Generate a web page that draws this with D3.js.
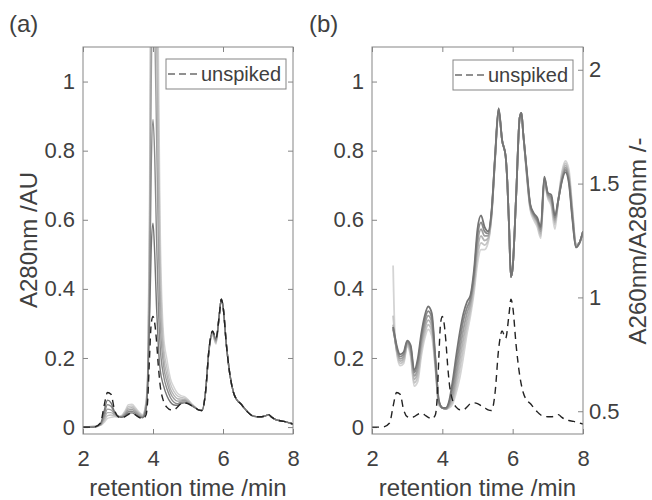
<!DOCTYPE html>
<html>
<head>
<meta charset="utf-8">
<script src="https://cdn.jsdelivr.net/npm/d3@7"></script>
<style>
  body { margin: 0; background: #fff; }
  svg { font-family: "Liberation Sans", Arial, sans-serif; }
</style>
</head>
<body>
<div id="chart"></div>
<script>
// ---- data ----
// (a) A280 chromatograms, retention time in min
var timeA = [2.0, 2.3, 2.5, 2.6, 2.7, 2.8, 2.9, 3.0, 3.1, 3.2, 3.3, 3.4, 3.5, 3.6, 3.7, 3.8,
  3.85, 3.9, 3.95, 4.0, 4.05, 4.1, 4.15, 4.2,
  4.3, 4.4, 4.5, 4.6, 4.7, 4.8, 4.9, 5.0, 5.1, 5.2, 5.3, 5.4, 5.5, 5.6, 5.7, 5.8, 5.9, 5.95,
  6.0, 6.1, 6.2, 6.3, 6.4, 6.5, 6.6, 6.7, 6.8, 6.9, 7.0, 7.1, 7.2, 7.3, 7.4, 7.5, 7.6, 7.7, 7.8, 7.9, 8.0];

var unspikedA280 = [0, 0, 0.012, 0.06, 0.1, 0.095, 0.05, 0.03, 0.027, 0.03, 0.037, 0.04, 0.035, 0.028, 0.024, 0.035,
  0.08, 0.2, 0.3, 0.32, 0.3, 0.25, 0.18, 0.125,
  0.075, 0.057, 0.05, 0.05, 0.058, 0.068, 0.07, 0.068, 0.062, 0.056, 0.05, 0.048, 0.1, 0.225, 0.278, 0.257, 0.33, 0.37,
  0.35, 0.235, 0.15, 0.1, 0.078, 0.068, 0.056, 0.044, 0.035, 0.031, 0.03, 0.03, 0.032, 0.036, 0.028, 0.022, 0.019, 0.017, 0.015, 0.012, 0.009];

// spiked runs, darkest line first
var spiked1 = [0, 0, 0.01, 0.045, 0.078, 0.07, 0.045, 0.032, 0.028, 0.032, 0.04, 0.041, 0.036, 0.03, 0.027, 0.05,
  0.12, 0.3, 0.52, 0.59, 0.5, 0.35, 0.24, 0.17,
  0.12, 0.09, 0.072, 0.064, 0.063, 0.068, 0.07, 0.068, 0.062, 0.056, 0.05, 0.048, 0.1, 0.225, 0.277, 0.255, 0.33, 0.37,
  0.35, 0.235, 0.15, 0.1, 0.078, 0.068, 0.056, 0.044, 0.035, 0.031, 0.03, 0.03, 0.032, 0.036, 0.028, 0.022, 0.019, 0.017, 0.015, 0.012, 0.009];
var spiked2 = [0, 0, 0.008, 0.035, 0.065, 0.06, 0.042, 0.032, 0.029, 0.035, 0.045, 0.046, 0.04, 0.032, 0.028, 0.055,
  0.13, 0.35, 0.75, 0.89, 0.78, 0.55, 0.36, 0.24,
  0.15, 0.11, 0.085, 0.072, 0.068, 0.072, 0.073, 0.07, 0.063, 0.056, 0.05, 0.048, 0.1, 0.224, 0.275, 0.252, 0.33, 0.37,
  0.35, 0.235, 0.15, 0.1, 0.078, 0.068, 0.056, 0.044, 0.035, 0.031, 0.03, 0.03, 0.032, 0.036, 0.028, 0.022, 0.019, 0.017, 0.015, 0.012, 0.009];
var spiked3 = [0, 0, 0.007, 0.028, 0.052, 0.05, 0.038, 0.031, 0.03, 0.038, 0.05, 0.051, 0.044, 0.035, 0.03, 0.06,
  0.14, 0.42, 1.0, 1.25, 1.15, 0.85, 0.55, 0.32,
  0.18, 0.13, 0.098, 0.082, 0.075, 0.076, 0.077, 0.072, 0.064, 0.057, 0.05, 0.048, 0.1, 0.223, 0.272, 0.249, 0.33, 0.37,
  0.35, 0.235, 0.15, 0.1, 0.078, 0.068, 0.056, 0.044, 0.035, 0.031, 0.03, 0.03, 0.032, 0.036, 0.028, 0.022, 0.019, 0.017, 0.015, 0.012, 0.009];
var spiked4 = [0, 0, 0.006, 0.022, 0.042, 0.042, 0.035, 0.031, 0.031, 0.041, 0.055, 0.056, 0.048, 0.038, 0.032, 0.065,
  0.15, 0.5, 1.25, 1.6, 1.5, 1.15, 0.75, 0.42,
  0.21, 0.15, 0.11, 0.092, 0.082, 0.081, 0.08, 0.075, 0.066, 0.057, 0.05, 0.048, 0.1, 0.222, 0.27, 0.246, 0.33, 0.37,
  0.35, 0.235, 0.15, 0.1, 0.078, 0.068, 0.056, 0.044, 0.035, 0.031, 0.03, 0.03, 0.032, 0.036, 0.028, 0.022, 0.019, 0.017, 0.015, 0.012, 0.009];
var spiked5 = [0, 0.002, 0.005, 0.017, 0.033, 0.035, 0.032, 0.03, 0.032, 0.044, 0.06, 0.061, 0.052, 0.041, 0.034, 0.07,
  0.16, 0.58, 1.5, 1.95, 1.85, 1.45, 0.95, 0.52,
  0.24, 0.17, 0.125, 0.103, 0.09, 0.086, 0.084, 0.078, 0.067, 0.058, 0.05, 0.048, 0.1, 0.221, 0.268, 0.243, 0.33, 0.37,
  0.35, 0.235, 0.15, 0.1, 0.078, 0.068, 0.056, 0.044, 0.035, 0.031, 0.03, 0.03, 0.032, 0.036, 0.028, 0.022, 0.019, 0.017, 0.015, 0.012, 0.009];
var spiked6 = [0, 0.003, 0.005, 0.013, 0.025, 0.028, 0.03, 0.03, 0.033, 0.047, 0.065, 0.066, 0.056, 0.044, 0.036, 0.075,
  0.17, 0.65, 1.75, 2.3, 2.15, 1.7, 1.15, 0.62,
  0.27, 0.195, 0.14, 0.115, 0.098, 0.091, 0.088, 0.08, 0.068, 0.058, 0.05, 0.048, 0.1, 0.22, 0.265, 0.24, 0.33, 0.37,
  0.35, 0.235, 0.15, 0.1, 0.078, 0.068, 0.056, 0.044, 0.035, 0.031, 0.03, 0.03, 0.032, 0.036, 0.028, 0.022, 0.019, 0.017, 0.015, 0.012, 0.009];

// (b) A260/A280 ratio of the same runs
var timeB = [2.6, 2.65, 2.7, 2.8, 2.9, 3.0, 3.1, 3.2, 3.3, 3.4, 3.5, 3.6, 3.7, 3.8, 3.9, 4.0, 4.1, 4.2, 4.3, 4.4,
  4.5, 4.6, 4.7, 4.8, 4.9, 5.0, 5.1, 5.2, 5.3, 5.4, 5.5, 5.6, 5.7, 5.8, 5.85, 5.9, 5.95, 6.0, 6.1, 6.2,
  6.25, 6.3, 6.4, 6.5, 6.6, 6.7, 6.8, 6.9, 7.0, 7.1, 7.2, 7.3, 7.4, 7.5, 7.6, 7.7, 7.8, 7.9, 8.0];
var ratio1 = [0.87, 0.83, 0.79, 0.75, 0.76, 0.81, 0.79, 0.68, 0.73, 0.84, 0.92, 0.96, 0.93, 0.74, 0.55, 0.515, 0.515, 0.55, 0.64, 0.75,
  0.85, 0.93, 0.98, 1.01, 1.12, 1.30, 1.36, 1.31, 1.29, 1.38, 1.62, 1.83, 1.69, 1.62, 1.5, 1.3, 1.09, 1.13, 1.45, 1.79,
  1.81, 1.72, 1.56, 1.41, 1.37, 1.35, 1.31, 1.53, 1.46, 1.45, 1.36, 1.43, 1.51, 1.55, 1.50, 1.34, 1.22, 1.24, 1.29];
var ratio2 = [0.86, 0.82, 0.78, 0.74, 0.75, 0.805, 0.78, 0.67, 0.71, 0.82, 0.90, 0.94, 0.91, 0.73, 0.545, 0.515, 0.512, 0.54, 0.61, 0.71,
  0.81, 0.90, 0.955, 0.995, 1.10, 1.27, 1.33, 1.29, 1.28, 1.375, 1.62, 1.83, 1.69, 1.62, 1.5, 1.3, 1.09, 1.13, 1.45, 1.79,
  1.81, 1.72, 1.555, 1.405, 1.365, 1.34, 1.30, 1.525, 1.455, 1.44, 1.35, 1.43, 1.515, 1.56, 1.51, 1.35, 1.22, 1.24, 1.29];
var ratio3 = [0.87, 0.82, 0.775, 0.73, 0.74, 0.80, 0.77, 0.655, 0.69, 0.80, 0.88, 0.92, 0.89, 0.72, 0.54, 0.515, 0.51, 0.53, 0.58, 0.67,
  0.77, 0.86, 0.93, 0.98, 1.08, 1.24, 1.30, 1.27, 1.27, 1.37, 1.615, 1.825, 1.69, 1.62, 1.5, 1.3, 1.09, 1.13, 1.45, 1.79,
  1.81, 1.72, 1.55, 1.40, 1.36, 1.335, 1.29, 1.52, 1.45, 1.43, 1.34, 1.43, 1.52, 1.57, 1.52, 1.36, 1.225, 1.24, 1.29];
var ratio4 = [0.88, 0.82, 0.77, 0.72, 0.73, 0.795, 0.76, 0.64, 0.67, 0.78, 0.86, 0.90, 0.87, 0.71, 0.535, 0.515, 0.51, 0.525, 0.56, 0.64,
  0.73, 0.82, 0.90, 0.96, 1.06, 1.21, 1.27, 1.25, 1.26, 1.365, 1.61, 1.82, 1.69, 1.62, 1.5, 1.3, 1.09, 1.13, 1.45, 1.79,
  1.81, 1.72, 1.545, 1.395, 1.355, 1.33, 1.28, 1.515, 1.445, 1.42, 1.33, 1.43, 1.53, 1.58, 1.53, 1.37, 1.23, 1.24, 1.29];
var ratio5 = [0.92, 0.83, 0.765, 0.71, 0.72, 0.79, 0.75, 0.625, 0.65, 0.76, 0.84, 0.88, 0.85, 0.70, 0.53, 0.515, 0.51, 0.52, 0.545, 0.61,
  0.69, 0.78, 0.87, 0.94, 1.04, 1.18, 1.24, 1.23, 1.25, 1.36, 1.61, 1.82, 1.69, 1.62, 1.5, 1.3, 1.09, 1.13, 1.45, 1.79,
  1.81, 1.72, 1.54, 1.39, 1.35, 1.32, 1.27, 1.51, 1.44, 1.41, 1.32, 1.43, 1.54, 1.59, 1.54, 1.38, 1.23, 1.24, 1.29];
var ratio6 = [1.14, 0.84, 0.76, 0.70, 0.71, 0.785, 0.74, 0.61, 0.63, 0.74, 0.82, 0.86, 0.83, 0.69, 0.525, 0.515, 0.51, 0.515, 0.535, 0.585,
  0.65, 0.74, 0.84, 0.92, 1.02, 1.15, 1.21, 1.21, 1.24, 1.355, 1.605, 1.815, 1.69, 1.62, 1.5, 1.3, 1.09, 1.13, 1.45, 1.79,
  1.81, 1.72, 1.535, 1.385, 1.34, 1.31, 1.26, 1.505, 1.435, 1.40, 1.30, 1.43, 1.55, 1.60, 1.56, 1.39, 1.235, 1.24, 1.29];

var xTicks = [2, 4, 6, 8];
var yTicks = [0, 0.2, 0.4, 0.6, 0.8, 1];
var yTickLabels = ["0", "0.2", "0.4", "0.6", "0.8", "1"];
var rTicks = [0.5, 1, 1.5, 2];
var rTickLabels = ["0.5", "1", "1.5", "2"];

// ---- drawing ----
var w = 652, h = 500;
var svg = d3.select("#chart").append("svg").attr("width", w).attr("height", h);

var textColor = "#404040", axisColor = "#858585", dashColor = "#222";
var grays = ["#747474", "#8a8a8a", "#9f9f9f", "#b3b3b3", "#c4c4c4", "#d4d4d4"];

var xA = d3.scaleLinear().domain([2, 8]).range([83, 293]);
var yA = d3.scaleLinear().domain([-0.02, 1.1]).range([434, 47]);
var xB = d3.scaleLinear().domain([2, 8]).range([372, 583]);
var yB = d3.scaleLinear().domain([-0.02, 1.1]).range([434, 47]);
var rB = d3.scaleLinear().domain([0.4, 2.1]).range([434, 47]);

function styleAxis(g, size) {
  g.select(".domain").remove();
  g.selectAll(".tick line").attr("stroke", axisColor);
  g.selectAll(".tick text").attr("fill", textColor).style("font-size", size + "px");
}

function frame(id, x, y) {
  var x0 = x.range()[0], x1 = x.range()[1], y0 = y.range()[1], y1 = y.range()[0];
  svg.append("defs").append("clipPath").attr("id", id)
    .append("rect").attr("x", x0).attr("y", y0).attr("width", x1 - x0).attr("height", y1 - y0);

  svg.append("g").attr("transform", "translate(0," + y1 + ")")
    .call(d3.axisBottom(x).tickValues(xTicks).tickSize(-5).tickPadding(16).tickFormat(d => d))
    .call(g => styleAxis(g, 22));
  svg.append("g").attr("transform", "translate(0," + y0 + ")")
    .call(d3.axisTop(x).tickValues(xTicks).tickSize(-5).tickFormat(""))
    .call(g => styleAxis(g, 22));
  svg.append("g").attr("transform", "translate(" + x0 + ",0)")
    .call(d3.axisLeft(y).tickValues(yTicks).tickSize(-5).tickPadding(8)
      .tickFormat((d, i) => yTickLabels[i]))
    .call(g => styleAxis(g, 22));
  return { x0: x0, x1: x1, y0: y0, y1: y1 };
}

var lineOf = (x, y, t) => d3.line()
  .x((d, i) => x(t[i])).y(d => y(d)).curve(d3.curveMonotoneX);

// panel (a)
var fa = frame("clipA", xA, yA);
svg.append("g").attr("transform", "translate(" + fa.x1 + ",0)")
  .call(d3.axisRight(yA).tickValues(yTicks).tickSize(-5).tickFormat(""))
  .call(g => styleAxis(g, 22));

var spikedRuns = [spiked1, spiked2, spiked3, spiked4, spiked5, spiked6];
var gA = svg.append("g").attr("clip-path", "url(#clipA)");
gA.selectAll("path.spiked")
  .data(spikedRuns.map((s, i) => ({ v: s, c: grays[i] })).reverse())
  .enter().append("path")
  .attr("class", "spiked")
  .attr("d", d => lineOf(xA, yA, timeA)(d.v))
  .attr("fill", "none").attr("stroke", d => d.c).attr("stroke-width", 1.4);
gA.append("path")
  .attr("d", lineOf(xA, yA, timeA)(unspikedA280))
  .attr("fill", "none").attr("stroke", dashColor).attr("stroke-width", 1.4)
  .attr("stroke-dasharray", "7,5");

svg.append("rect").attr("x", fa.x0).attr("y", fa.y0)
  .attr("width", fa.x1 - fa.x0).attr("height", fa.y1 - fa.y0)
  .attr("fill", "none").attr("stroke", axisColor);

// panel (b)
var fb = frame("clipB", xB, yB);
svg.append("g").attr("transform", "translate(" + fb.x1 + ",0)")
  .call(d3.axisRight(rB).tickValues(rTicks).tickSize(-5).tickPadding(6)
    .tickFormat((d, i) => rTickLabels[i]))
  .call(g => styleAxis(g, 22));

var ratioRuns = [ratio1, ratio2, ratio3, ratio4, ratio5, ratio6];
var gB = svg.append("g").attr("clip-path", "url(#clipB)");
gB.selectAll("path.ratio")
  .data(ratioRuns.map((s, i) => ({ v: s, c: grays[i] })).reverse())
  .enter().append("path")
  .attr("class", "ratio")
  .attr("d", d => lineOf(xB, rB, timeB)(d.v))
  .attr("fill", "none").attr("stroke", d => d.c).attr("stroke-width", 1.8);
gB.append("path")
  .attr("d", lineOf(xB, yB, timeA)(unspikedA280))
  .attr("fill", "none").attr("stroke", dashColor).attr("stroke-width", 1.4)
  .attr("stroke-dasharray", "7,5");

svg.append("rect").attr("x", fb.x0).attr("y", fb.y0)
  .attr("width", fb.x1 - fb.x0).attr("height", fb.y1 - fb.y0)
  .attr("fill", "none").attr("stroke", axisColor);

// legends
function legend(x, y) {
  var g = svg.append("g").attr("transform", "translate(" + x + "," + y + ")");
  g.append("rect").attr("width", 120).attr("height", 30)
    .attr("fill", "#fff").attr("stroke", axisColor);
  g.append("line").attr("x1", 2).attr("x2", 32).attr("y1", 15).attr("y2", 15)
    .attr("stroke", dashColor).attr("stroke-width", 1.2).attr("stroke-dasharray", "7,4");
  g.append("text").attr("x", 35).attr("y", 22).attr("fill", textColor)
    .style("font-size", "20px").text("unspiked");
}
legend(166, 59);
legend(453, 60);

// labels
function label(txt, x, y, rot, anchor, size) {
  svg.append("text")
    .attr("transform", "translate(" + x + "," + y + ")" + (rot ? " rotate(" + rot + ")" : ""))
    .attr("text-anchor", anchor).attr("fill", textColor)
    .style("font-size", size + "px").text(txt);
}
label("(a)", 9, 32, 0, "start", 24);
label("(b)", 309, 32, 0, "start", 24);
label("retention time /min", (fa.x0 + fa.x1) / 2, 496, 0, "middle", 24);
label("retention time /min", (fb.x0 + fb.x1) / 2, 496, 0, "middle", 24);
label("A280nm /AU", 37, 240, -90, "middle", 24);
label("A260nm/A280nm /-", 646, 241, -90, "middle", 24);
</script>
</body>
</html>
